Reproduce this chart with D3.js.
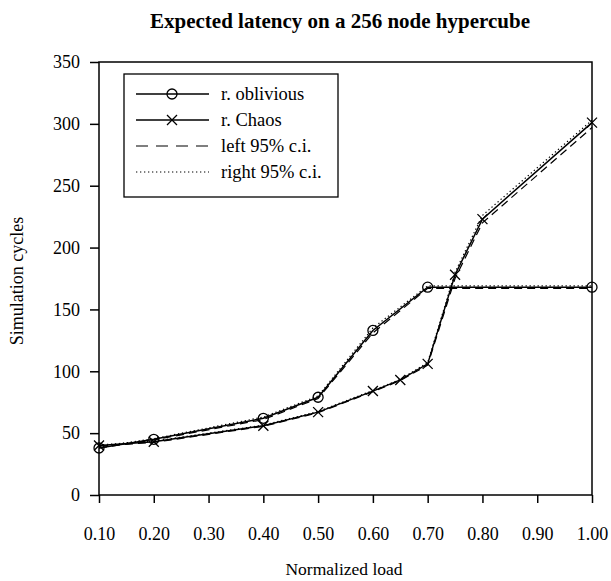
<!DOCTYPE html>
<html><head><meta charset="utf-8">
<script src="https://cdn.jsdelivr.net/npm/d3@7"></script>
<style>body{margin:0;background:#fff}svg{display:block}text{font-family:"Liberation Serif","DejaVu Serif",serif}</style>
</head><body>
<svg id="c" width="611" height="581"></svg>
<script>
const xTicks = [0.10,0.20,0.30,0.40,0.50,0.60,0.70,0.80,0.90,1.00];
const yTicks = [0,50,100,150,200,250,300,350];
const oblX = [0.1,0.2,0.4,0.5,0.6,0.7,1.0];
const oblY = [38,45,62,79,133,168,168];
const oblLeft = [38,44.5,61,78,131,167,167];
const oblRight = [39,45.5,63,80,135,169,169];
const chaosX = [0.1,0.2,0.4,0.5,0.6,0.65,0.7,0.75,0.8,1.0];
const chaosY = [40,43,56,67,84,93,106,178,223,301];
const chaosLeft = [39.5,42.5,55.5,66.5,83.5,92.5,105,175,220,297];
const chaosRight = [40.5,43.5,56.5,67.5,84.5,93.5,107,180,226,303];
const legendLabels = ["r. oblivious","r. Chaos","left 95% c.i.","right 95% c.i."];

const svg = d3.select("#c");
const L=99,R=592,T=62,B=495;
const x = d3.scaleLinear().domain([0.1,1.0]).range([L,R]);
const y = d3.scaleLinear().domain([0,350]).range([B,T]);

svg.append("text").attr("x",340).attr("y",28).attr("text-anchor","middle")
  .attr("font-size",21).attr("font-weight","bold").text("Expected latency on a 256 node hypercube");

const xa = svg.append("g").attr("transform",`translate(0,${B})`)
  .call(d3.axisBottom(x).tickValues(xTicks).tickFormat(d3.format(".2f")).tickSize(8).tickPadding(24).tickSizeOuter(0));
const ya = svg.append("g").attr("transform",`translate(${L},0)`)
  .call(d3.axisLeft(y).tickValues(yTicks).tickSize(9).tickPadding(10).tickSizeOuter(0));
[xa,ya].forEach(g=>{
  g.select(".domain").remove();
  g.selectAll("line").attr("stroke","#000").attr("stroke-width",1.5);
  g.selectAll("text").attr("font-size",18).attr("fill","#000").style("font-family",'"Liberation Serif",serif');
});
svg.append("rect").attr("x",L).attr("y",T).attr("width",R-L).attr("height",B-T)
  .attr("fill","none").attr("stroke","#000").attr("stroke-width",1.5);

svg.append("text").attr("transform","translate(23,281) rotate(-90)").attr("text-anchor","middle")
  .attr("font-size",18).text("Simulation cycles");
svg.append("text").attr("x",344).attr("y",575).attr("text-anchor","middle")
  .attr("font-size",17.5).text("Normalized load");

const line = d3.line();
function draw(xs, ys, dash, w){
  svg.append("path").attr("d", line(xs.map((v,i)=>[x(v),y(ys[i])])))
    .attr("fill","none").attr("stroke","#000").attr("stroke-width",w)
    .attr("stroke-dasharray",dash);
}
draw(oblX, oblLeft, "8,5", 1.2);
draw(chaosX, chaosLeft, "8,5", 1.2);
draw(oblX, oblRight, "1.3,2.7", 1.2);
draw(chaosX, chaosRight, "1.3,2.7", 1.2);
draw(oblX, oblY, null, 1.5);
draw(chaosX, chaosY, null, 1.5);

function circle(g,cx,cy){ g.append("circle").attr("cx",cx).attr("cy",cy).attr("r",5).attr("fill","none").attr("stroke","#000").attr("stroke-width",1.3); }
function cross(g,cx,cy){ const s=5; g.append("path").attr("d",`M${cx-s},${cy-s}L${cx+s},${cy+s}M${cx-s},${cy+s}L${cx+s},${cy-s}`).attr("stroke","#000").attr("stroke-width",1.3); }
oblX.forEach((v,i)=>circle(svg,x(v),y(oblY[i])));
chaosX.forEach((v,i)=>cross(svg,x(v),y(chaosY[i])));

// legend
const lg = svg.append("g");
lg.append("rect").attr("x",124).attr("y",74).attr("width",214).attr("height",123)
  .attr("fill","#fff").attr("stroke","#000").attr("stroke-width",1.3);
const rowsY=[94,120,146,172];
const dashes=[null,null,"12,8","1.3,2.7"];
rowsY.forEach((ry,i)=>{
  lg.append("line").attr("x1",136).attr("x2",209).attr("y1",ry).attr("y2",ry)
    .attr("stroke","#000").attr("stroke-width",i<2?1.5:1.2).attr("stroke-dasharray",dashes[i]);
  if(i===0) circle(lg,172,ry);
  if(i===1) cross(lg,172,ry);
  lg.append("text").attr("x",221).attr("y",ry+6).attr("font-size",18.5).text(legendLabels[i]);
});
</script>
</body></html>
